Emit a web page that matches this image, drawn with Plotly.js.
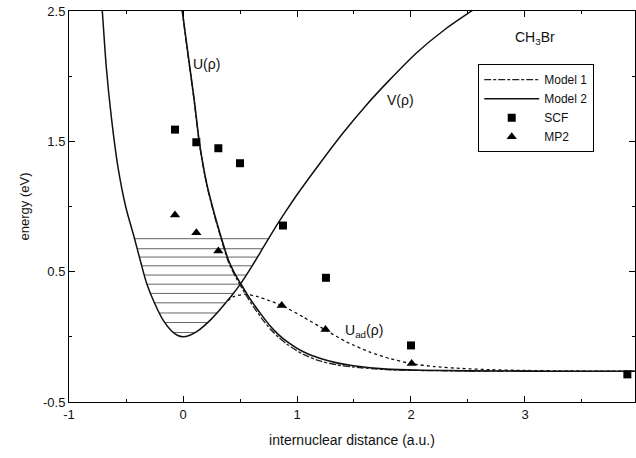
<!DOCTYPE html>
<html>
<head>
<meta charset="utf-8">
<script src="https://cdn.plot.ly/plotly-3.0.1.min.js"></script>
<style>html,body{margin:0;padding:0;background:#fff;}#chart{width:636px;height:458px;}</style>
</head>
<body>
<div id="chart"></div>
<script>
// Diabatic well + V(rho) curve (one continuous curve)
var wellX = [-0.72, -0.708, -0.673, -0.629, -0.570, -0.503, -0.425, -0.37, -0.318, -0.25, -0.173, -0.10, -0.05, 0.0, 0.06, 0.13, 0.237, 0.30, 0.383, 0.44, 0.506, 0.60, 0.70, 0.80, 0.90, 1.0, 1.2, 1.4, 1.6, 1.8, 2.05, 2.3, 2.532, 2.6];
var wellY = [2.62, 2.5, 2.07, 1.69, 1.30, 1.0, 0.753, 0.57, 0.408, 0.26, 0.126, 0.045, 0.012, 0.0, 0.012, 0.045, 0.126, 0.185, 0.27, 0.33, 0.408, 0.535, 0.68, 0.825, 0.96, 1.09, 1.33, 1.56, 1.77, 1.96, 2.18, 2.36, 2.5, 2.54];

// Vibrational levels (hatching)
var levels = [0.753, 0.676, 0.612, 0.545, 0.474, 0.404, 0.333, 0.261, 0.183, 0.11, 0.033];

// U(rho), Model 2 (solid) and Model 1 (dash-dot)
var uX  = [-0.02, -0.006, 0.05, 0.099, 0.143, 0.208, 0.27, 0.325, 0.398, 0.47, 0.506, 0.56, 0.617, 0.70, 0.763, 0.84, 0.91, 1.055, 1.2, 1.35, 1.494, 1.787, 2.08, 2.5, 3.0, 3.5, 3.97];
var uY2 = [2.62, 2.5, 2.13, 1.815, 1.495, 1.175, 0.96, 0.792, 0.59, 0.46, 0.408, 0.33, 0.255, 0.155, 0.085, 0.015, -0.035, -0.115, -0.165, -0.2, -0.222, -0.248, -0.256, -0.261, -0.263, -0.264, -0.264];
var uY1 = [2.62, 2.5, 2.12, 1.805, 1.485, 1.165, 0.95, 0.78, 0.575, 0.445, 0.39, 0.31, 0.232, 0.13, 0.062, -0.005, -0.055, -0.135, -0.185, -0.215, -0.232, -0.252, -0.258, -0.262, -0.264, -0.265, -0.265];

// Adiabatic U_ad(rho)
var adX = [0.39, 0.45, 0.544, 0.65, 0.75, 0.866, 1.055, 1.254, 1.436, 1.64, 1.82, 2.006, 2.2, 2.45, 2.7, 3.0, 3.4, 3.97];
var adY = [0.277, 0.31, 0.326, 0.31, 0.28, 0.241, 0.152, 0.05, -0.04, -0.117, -0.168, -0.206, -0.228, -0.243, -0.252, -0.258, -0.262, -0.263];

// SCF and MP2 points
var scfX = [-0.07, 0.117, 0.31, 0.5, 0.877, 1.254, 2.0, 3.898];
var scfY = [1.59, 1.493, 1.447, 1.332, 0.854, 0.453, -0.066, -0.288];
var mp2X = [-0.07, 0.117, 0.31, 0.866, 1.25, 2.006];
var mp2Y = [0.935, 0.798, 0.658, 0.241, 0.057, -0.205];

// Axis ticks
var xTicks = [-1, 0, 1, 2, 3];
var xTickText = ['-1', '0', '1', '2', '3'];
var yTicks = [-0.5, 0.5, 1.5, 2.5];
var yTickText = ['-0.5', '0.5', '1.5', '2.5'];

function crossings(xs, ys, level) {
  var out = [];
  for (var i = 0; i < xs.length - 1; i++) {
    var a = ys[i] - level, b = ys[i + 1] - level;
    if (a * b <= 0 && ys[i] !== ys[i + 1]) {
      var t = (level - ys[i]) / (ys[i + 1] - ys[i]);
      out.push(xs[i] + t * (xs[i + 1] - xs[i]));
    }
  }
  return out;
}
var hx = [], hy = [];
levels.forEach(function (lv) {
  var c = crossings(wellX, wellY, lv);
  hx.push(Math.min.apply(null, c), Math.max.apply(null, c), null);
  hy.push(lv, lv, null);
});

var FONT = 'Liberation Sans, Arial, Helvetica, sans-serif';
var traces = [
  {x: hx, y: hy, mode: 'lines', line: {color: '#666', width: 1}, showlegend: false, hoverinfo: 'skip'},
  {x: wellX, y: wellY, mode: 'lines', line: {color: '#111', width: 1.5, shape: 'spline', smoothing: 0.8}, showlegend: false},
  {x: adX, y: adY, mode: 'lines', line: {color: '#111', width: 1.3, dash: '3px,3px', shape: 'spline', smoothing: 0.6}, showlegend: false},
  {x: uX, y: uY1, mode: 'lines', name: 'Model 1', line: {color: '#222', width: 1.3, dash: '7px,2px,3px,2px', shape: 'spline', smoothing: 0.6}},
  {x: uX, y: uY2, mode: 'lines', name: 'Model 2', line: {color: '#111', width: 1.6, shape: 'spline', smoothing: 0.6}},
  {x: scfX, y: scfY, mode: 'markers', name: 'SCF', marker: {symbol: 'square', size: 8, color: '#000'}},
  {x: mp2X, y: mp2Y, mode: 'markers', name: 'MP2', marker: {symbol: 'triangle-up', size: 9, color: '#000'}}
];

var layout = {
  width: 636, height: 458,
  margin: {l: 69, r: 1, t: 11, b: 56},
  paper_bgcolor: '#fff', plot_bgcolor: '#fff',
  font: {family: FONT, size: 12, color: '#111'},
  xaxis: {
    range: [-1, 3.965], showgrid: false, zeroline: false,
    showline: true, linecolor: '#000', linewidth: 1, mirror: 'ticks',
    ticks: 'inside', ticklen: 6, tickcolor: '#000',
    tickmode: 'array', tickvals: xTicks, ticktext: xTickText,
    minor: {ticks: 'inside', ticklen: 3, dtick: 0.5, tick0: -1, tickcolor: '#000'},
    tickfont: {size: 13, family: FONT},
    title: {text: 'internuclear distance (a.u.)', font: {size: 14, family: FONT}, standoff: 14}
  },
  yaxis: {
    range: [-0.5, 2.5], showgrid: false, zeroline: false,
    showline: true, linecolor: '#000', linewidth: 1, mirror: 'ticks',
    ticks: 'inside', ticklen: 6, tickcolor: '#000',
    tickmode: 'array', tickvals: yTicks, ticktext: yTickText,
    minor: {ticks: 'inside', ticklen: 3, dtick: 0.5, tick0: -0.5, tickcolor: '#000'},
    tickfont: {size: 13, family: FONT},
    title: {text: 'energy (eV)', font: {size: 13, family: FONT}, standoff: 10}
  },
  legend: {
    x: 0.723, y: 0.864, xanchor: 'left', yanchor: 'top',
    bgcolor: '#fff', bordercolor: '#000', borderwidth: 1,
    itemwidth: 55,
    font: {size: 12, family: FONT}
  },
  annotations: [
    {x: 0.208, y: 2.096, xref: 'x', yref: 'y', text: 'U(ρ)', showarrow: false, font: {size: 14, family: FONT}},
    {x: 1.91, y: 1.815, xref: 'x', yref: 'y', text: 'V(ρ)', showarrow: false, font: {size: 14, family: FONT}},
    {x: 1.59, y: 0.045, xref: 'x', yref: 'y', text: 'U<sub>ad</sub>(ρ)', showarrow: false, font: {size: 14, family: FONT}},
    {x: 3.09, y: 2.29, xref: 'x', yref: 'y', text: 'CH<sub>3</sub>Br', showarrow: false, font: {size: 14, family: FONT}}
  ]
};

Plotly.newPlot('chart', traces, layout, {displayModeBar: false, staticPlot: true});
</script>
</body>
</html>
